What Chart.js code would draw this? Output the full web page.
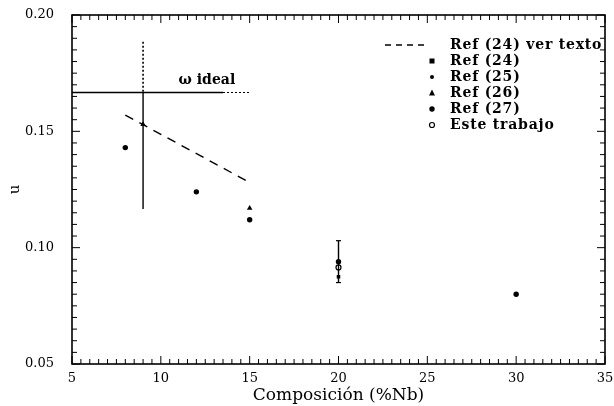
<!DOCTYPE html>
<html>
<head>
<meta charset="utf-8">
<script src="https://cdn.jsdelivr.net/npm/chart.js"></script>
<style>
  html, body { margin: 0; padding: 0; background: #fff; }
  #wrap { width: 614px; height: 406px; }
</style>
</head>
<body>
<div id="wrap"><canvas id="grafico" width="614" height="406"></canvas></div>
<script>
// datos
const xTicks = [5, 10, 15, 20, 25, 30, 35];
const yTicks = [0.05, 0.10, 0.15, 0.20];

const refTextoX = [8, 15];
const refTextoY = [0.157, 0.128];

const ref24X = [8, 12, 15];
const ref24Y = [0.143, 0.124, 0.112];
const ref25X = [20, 30];
const ref25Y = [0.094, 0.080];
const ref26X = [9, 15];
const ref26Y = [0.153, 0.117];
const ref27X = [20];
const ref27Y = [0.0875];
const esteX = [20];
const esteY = [0.0915];

// barras de error
const barra9X = [9, 9, 9];
const barra9Y = [0.1885, 0.1667, 0.1166];
const barra20X = [20, 20];
const barra20Y = [0.103, 0.085];

// omega ideal
const omegaX = [5, 13.5, 15];
const omegaY = [0.1667, 0.1667, 0.1667];
const omegaTexto = 'ω ideal';
const omegaTextoPos = [11, 0.172];

const leyenda = ['Ref (24) ver texto', 'Ref (24)', 'Ref (25)', 'Ref (26)', 'Ref (27)', 'Este trabajo'];

const fuente = 'DejaVu Serif';

function pares(xs, ys) {
    return xs.map((x, i) => ({ x: x, y: ys[i] }));
}

function punto(ctx, tipo, px, py) {
    ctx.beginPath();
    if (tipo === 'rect') {
        ctx.fillRect(px - 2.5, py - 2.5, 5, 5);
    } else if (tipo === 'tri') {
        ctx.moveTo(px, py - 3.5);
        ctx.lineTo(px + 3, py + 2.5);
        ctx.lineTo(px - 3, py + 2.5);
        ctx.closePath();
        ctx.fill();
    } else if (tipo === 'hueco') {
        ctx.lineWidth = 1.2;
        ctx.arc(px, py, 2.5, 0, Math.PI * 2);
        ctx.stroke();
    } else {
        const r = tipo === 'chico' ? 2 : 2.7;
        ctx.arc(px, py, r, 0, Math.PI * 2);
        ctx.fill();
    }
}

const marcos = {
    id: 'marcos',
    afterDraw(chart) {
        const { ctx, scales: { x, y } } = chart;
        // el marco sigue a las escalas
        const a = {
            left: x.getPixelForValue(5), right: x.getPixelForValue(35),
            top: y.getPixelForValue(0.20), bottom: y.getPixelForValue(0.05)
        };
        ctx.save();
        ctx.strokeStyle = '#000';
        ctx.fillStyle = '#000';
        ctx.lineWidth = 1;
        const linea = (x1, y1, x2, y2) => {
            ctx.beginPath(); ctx.moveTo(x1, y1); ctx.lineTo(x2, y2); ctx.stroke();
        };
        // marcas hacia adentro en los cuatro lados
        for (let i = 0; i <= 60; i++) {
            const v = 5 + i * 0.5;
            const px = x.getPixelForValue(v);
            const len = i % 10 === 0 ? 8 : 5;
            linea(px, a.bottom, px, a.bottom - len);
            linea(px, a.top, px, a.top + len);
        }
        for (let i = 0; i <= 30; i++) {
            const v = 0.05 + i * 0.005;
            const py = y.getPixelForValue(v);
            const len = i % 10 === 0 ? 8 : 5;
            linea(a.left, py, a.left + len, py);
            linea(a.right, py, a.right - len, py);
        }
        ctx.lineWidth = 1.6;
        ctx.strokeRect(a.left, a.top, a.right - a.left, a.bottom - a.top);

        // texto omega
        ctx.font = 'bold 14px ' + fuente;
        ctx.textBaseline = 'middle';
        ctx.textAlign = 'left';
        ctx.fillText(omegaTexto, x.getPixelForValue(omegaTextoPos[0]), y.getPixelForValue(omegaTextoPos[1]));

        // leyenda
        ctx.letterSpacing = '0.8px';
        const tipos = ['linea', 'rect', 'chico', 'tri', 'punto', 'hueco'];
        const tx = a.left + 378;
        const mx = a.left + 360;
        tipos.forEach((t, i) => {
            const py = a.top + 30 + i * 16;
            ctx.fillText(leyenda[i], tx, py);
            if (t === 'linea') {
                ctx.lineWidth = 1.3;
                ctx.setLineDash([6, 5]);
                linea(a.left + 313, py, a.left + 352, py);
                ctx.setLineDash([]);
            } else {
                punto(ctx, t, mx, py);
            }
        });
        ctx.restore();
    }
};

function serie(xs, ys, tipo) {
    const estilos = { rect: ['rect', 2.5], chico: ['circle', 2], tri: ['triangle', 3.2], punto: ['circle', 2.7], hueco: ['circle', 2.5] };
    const [ps, r] = estilos[tipo];
    return {
        data: pares(xs, ys),
        showLine: false,
        pointStyle: ps,
        pointRadius: r,
        backgroundColor: tipo === 'hueco' ? '#fff' : '#000',
        borderColor: '#000',
        borderWidth: tipo === 'hueco' ? 1.2 : 0
    };
}

new Chart(document.getElementById('grafico'), {
    type: 'scatter',
    data: {
        datasets: [
            { data: pares(refTextoX, refTextoY), showLine: true, pointRadius: 0, borderColor: '#000', borderWidth: 1.4, borderDash: [9, 7] },
            { data: pares(omegaX.slice(0, 2), omegaY.slice(0, 2)), showLine: true, pointRadius: 0, borderColor: '#000', borderWidth: 1.3 },
            { data: pares(omegaX.slice(1), omegaY.slice(1)), showLine: true, pointRadius: 0, borderColor: '#000', borderWidth: 1.2, borderDash: [2, 2] },
            { data: pares(barra9X.slice(0, 2), barra9Y.slice(0, 2)), showLine: true, pointRadius: 0, borderColor: '#000', borderWidth: 1.6, borderDash: [2, 2] },
            { data: pares(barra9X.slice(1), barra9Y.slice(1)), showLine: true, pointRadius: 0, borderColor: '#000', borderWidth: 1.4 },
            { data: pares(barra20X, barra20Y), showLine: true, pointStyle: 'line', pointRadius: 2.5, pointBorderWidth: 1.2, borderColor: '#000', borderWidth: 1.4 },
            serie(ref24X, ref24Y, 'punto'),
            serie(ref25X, ref25Y, 'punto'),
            serie(ref26X, ref26Y, 'tri'),
            serie(ref27X, ref27Y, 'rect'),
            serie(esteX, esteY, 'hueco')
        ]
    },
    options: {
        responsive: false,
        animation: false,
        layout: { padding: { top: 15, right: 0, left: 0, bottom: 0 } },
        plugins: { legend: { display: false }, tooltip: { enabled: false } },
        scales: {
            x: {
                type: 'linear', min: 5, max: 35,
                afterBuildTicks: s => { s.ticks = xTicks.map(v => ({ value: v })); },
                afterFit: s => { s.height = 42; s.paddingLeft = 0; s.paddingRight = 9; },
                grid: { display: false, drawTicks: false },
                border: { display: false },
                ticks: { padding: 7, color: '#000', font: { family: fuente, size: 13 } },
                title: { display: true, text: 'Composición (%Nb)', color: '#000', padding: { top: 0, bottom: 0 }, font: { family: fuente, size: 17 } }
            },
            y: {
                type: 'linear', min: 0.05, max: 0.20,
                afterBuildTicks: s => { s.ticks = yTicks.map(v => ({ value: v })); },
                afterFit: s => { s.width = 72; s.paddingTop = 0; s.paddingBottom = 0; },
                grid: { display: false, drawTicks: false },
                border: { display: false },
                ticks: { padding: 18, color: '#000', font: { family: fuente, size: 13 }, callback: v => v.toFixed(2) },
                title: { display: true, text: 'u', color: '#000', padding: { top: 6, bottom: 0 }, font: { family: fuente, size: 15 } }
            }
        }
    },
    plugins: [marcos]
});
</script>
</body>
</html>
